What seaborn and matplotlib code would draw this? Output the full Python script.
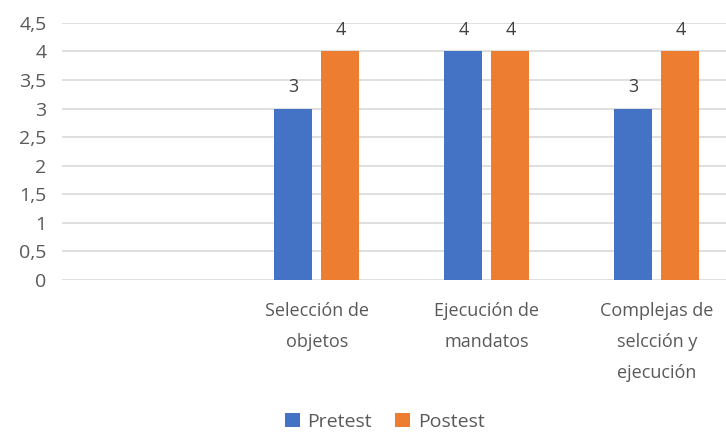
import pandas as pd
import seaborn as sns
from matplotlib import pyplot as plt

# %% data
categories = ["", "Selección de\nobjetos", "Ejecución de\nmandatos", "Complejas de\nselcción y\nejecución"]
pretest = [3, 4, 3]
postest = [4, 4, 4]

df = pd.DataFrame({
    "categoria": categories[1:] * 2,
    "valor": pretest + postest,
    "grupo": ["Pretest"] * 3 + ["Postest"] * 3,
})

# %% plot
sns.set_style("white")
plt.rcParams["font.family"] = ["Open Sans", "DejaVu Sans"]
grey = "#595959"

fig = plt.figure(figsize=(7.26, 4.32), dpi=100)
ax = fig.add_axes([0.085, 0.352, 0.937, 0.595])
sns.barplot(
    data=df, x="categoria", y="valor", hue="grupo",
    order=categories, hue_order=["Pretest", "Postest"],
    palette=["#4472c4", "#ed7d31"], saturation=1,
    width=0.553, gap=0.19, linewidth=0, ax=ax,
)
for c in ax.containers:
    ax.bar_label(c, padding=9, fontsize=13, color="#404040")

ax.set_xlim(-0.5, 3.5)
ax.set_ylim(0, 4.5)
ax.set_yticks([i * 0.5 for i in range(10)])
ax.set_yticklabels([("%g" % (i * 0.5)).replace(".", ",") for i in range(10)])
ax.yaxis.grid(True, color="#d9d9d9", linewidth=1.2)
ax.set_axisbelow(True)
for s in ax.spines.values():
    s.set_visible(False)
ax.tick_params(axis="both", length=0, colors=grey)
ax.tick_params(axis="x", pad=16, labelsize=13)
ax.tick_params(axis="y", pad=11, labelsize=14)
ax.set_xlabel("")
ax.set_ylabel("")
for lbl in ax.get_xticklabels():
    lbl.set_linespacing(1.92)
    lbl.set_va("top")

ax.legend(
    loc="center", bbox_to_anchor=(0.475, -0.553), ncol=2, frameon=False,
    fontsize=14, labelcolor=grey, handlelength=0.75, handleheight=0.75,
    handletextpad=0.4, columnspacing=1.2,
)
plt.savefig("out.png")
